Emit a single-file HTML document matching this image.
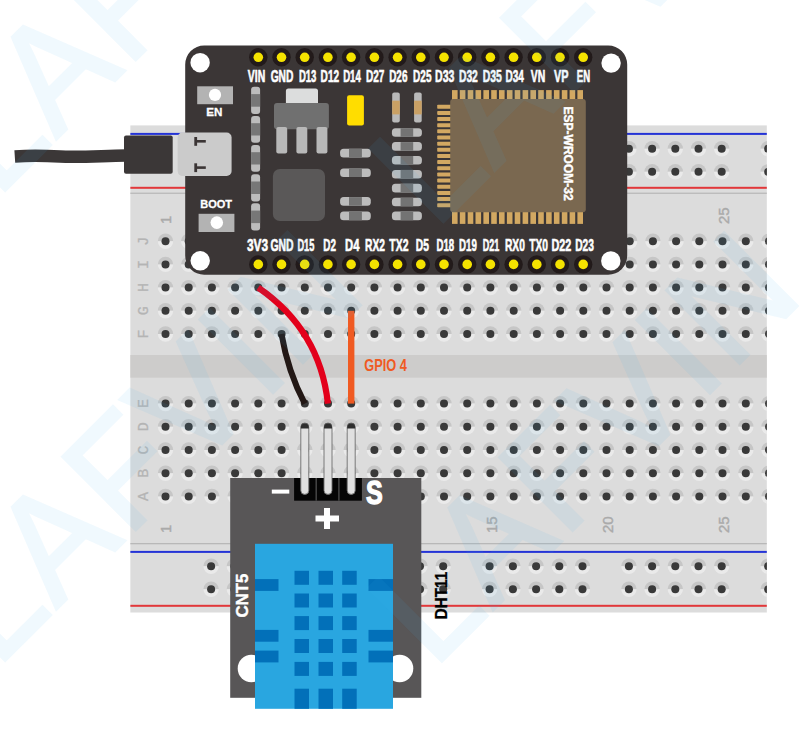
<!DOCTYPE html><html><head><meta charset="utf-8"><style>html,body{margin:0;padding:0;background:#fff;width:803px;height:732px;overflow:hidden}svg{position:absolute;left:0;top:0;display:block}text{font-family:"Liberation Sans",sans-serif;font-weight:bold}</style></head><body>
<svg width="803" height="732" viewBox="0 0 803 732">
<defs><g id="h"><path d="M-7.7,0 A7.7,7.7 0 0 1 7.7,0Z" fill="#c6c6c6"/><path d="M-7.7,0 A7.7,7.7 0 0 0 7.7,0Z" fill="#eaeaea"/><circle r="4" fill="#393939"/></g><clipPath id="bb"><rect x="130.2" y="125.2" width="636.7" height="487.5"/></clipPath></defs>
<g clip-path="url(#bb)">
<rect x="130.2" y="125.2" width="636.7" height="487.5" fill="#dcdcdc"/>
<rect x="130.2" y="132.9" width="636.7" height="2" fill="#2433d6"/>
<rect x="130.2" y="186.8" width="636.7" height="2" fill="#e2373a"/>
<rect x="130.2" y="192.6" width="636.7" height="1.3" fill="#b8b8b8"/>
<rect x="130.2" y="543.0" width="636.7" height="1.3" fill="#b8b8b8"/>
<rect x="130.2" y="550.9" width="636.7" height="2" fill="#2433d6"/>
<rect x="130.2" y="604.8" width="636.7" height="2" fill="#e2373a"/>
<rect x="130.2" y="355" width="636.7" height="22.7" fill="#cdcccb"/>
<use href="#h" x="165.5" y="241.2"/>
<use href="#h" x="188.7" y="241.2"/>
<use href="#h" x="211.9" y="241.2"/>
<use href="#h" x="235.1" y="241.2"/>
<use href="#h" x="258.3" y="241.2"/>
<use href="#h" x="281.6" y="241.2"/>
<use href="#h" x="304.8" y="241.2"/>
<use href="#h" x="328.0" y="241.2"/>
<use href="#h" x="351.2" y="241.2"/>
<use href="#h" x="374.4" y="241.2"/>
<use href="#h" x="397.6" y="241.2"/>
<use href="#h" x="420.8" y="241.2"/>
<use href="#h" x="444.0" y="241.2"/>
<use href="#h" x="467.2" y="241.2"/>
<use href="#h" x="490.4" y="241.2"/>
<use href="#h" x="513.7" y="241.2"/>
<use href="#h" x="536.9" y="241.2"/>
<use href="#h" x="560.1" y="241.2"/>
<use href="#h" x="583.3" y="241.2"/>
<use href="#h" x="606.5" y="241.2"/>
<use href="#h" x="629.7" y="241.2"/>
<use href="#h" x="652.9" y="241.2"/>
<use href="#h" x="676.1" y="241.2"/>
<use href="#h" x="699.3" y="241.2"/>
<use href="#h" x="722.5" y="241.2"/>
<use href="#h" x="745.8" y="241.2"/>
<use href="#h" x="769.0" y="241.2"/>
<use href="#h" x="165.5" y="264.4"/>
<use href="#h" x="188.7" y="264.4"/>
<use href="#h" x="211.9" y="264.4"/>
<use href="#h" x="235.1" y="264.4"/>
<use href="#h" x="258.3" y="264.4"/>
<use href="#h" x="281.6" y="264.4"/>
<use href="#h" x="304.8" y="264.4"/>
<use href="#h" x="328.0" y="264.4"/>
<use href="#h" x="351.2" y="264.4"/>
<use href="#h" x="374.4" y="264.4"/>
<use href="#h" x="397.6" y="264.4"/>
<use href="#h" x="420.8" y="264.4"/>
<use href="#h" x="444.0" y="264.4"/>
<use href="#h" x="467.2" y="264.4"/>
<use href="#h" x="490.4" y="264.4"/>
<use href="#h" x="513.7" y="264.4"/>
<use href="#h" x="536.9" y="264.4"/>
<use href="#h" x="560.1" y="264.4"/>
<use href="#h" x="583.3" y="264.4"/>
<use href="#h" x="606.5" y="264.4"/>
<use href="#h" x="629.7" y="264.4"/>
<use href="#h" x="652.9" y="264.4"/>
<use href="#h" x="676.1" y="264.4"/>
<use href="#h" x="699.3" y="264.4"/>
<use href="#h" x="722.5" y="264.4"/>
<use href="#h" x="745.8" y="264.4"/>
<use href="#h" x="769.0" y="264.4"/>
<use href="#h" x="165.5" y="287.6"/>
<use href="#h" x="188.7" y="287.6"/>
<use href="#h" x="211.9" y="287.6"/>
<use href="#h" x="235.1" y="287.6"/>
<use href="#h" x="258.3" y="287.6"/>
<use href="#h" x="281.6" y="287.6"/>
<use href="#h" x="304.8" y="287.6"/>
<use href="#h" x="328.0" y="287.6"/>
<use href="#h" x="351.2" y="287.6"/>
<use href="#h" x="374.4" y="287.6"/>
<use href="#h" x="397.6" y="287.6"/>
<use href="#h" x="420.8" y="287.6"/>
<use href="#h" x="444.0" y="287.6"/>
<use href="#h" x="467.2" y="287.6"/>
<use href="#h" x="490.4" y="287.6"/>
<use href="#h" x="513.7" y="287.6"/>
<use href="#h" x="536.9" y="287.6"/>
<use href="#h" x="560.1" y="287.6"/>
<use href="#h" x="583.3" y="287.6"/>
<use href="#h" x="606.5" y="287.6"/>
<use href="#h" x="629.7" y="287.6"/>
<use href="#h" x="652.9" y="287.6"/>
<use href="#h" x="676.1" y="287.6"/>
<use href="#h" x="699.3" y="287.6"/>
<use href="#h" x="722.5" y="287.6"/>
<use href="#h" x="745.8" y="287.6"/>
<use href="#h" x="769.0" y="287.6"/>
<use href="#h" x="165.5" y="310.8"/>
<use href="#h" x="188.7" y="310.8"/>
<use href="#h" x="211.9" y="310.8"/>
<use href="#h" x="235.1" y="310.8"/>
<use href="#h" x="258.3" y="310.8"/>
<use href="#h" x="281.6" y="310.8"/>
<use href="#h" x="304.8" y="310.8"/>
<use href="#h" x="328.0" y="310.8"/>
<use href="#h" x="351.2" y="310.8"/>
<use href="#h" x="374.4" y="310.8"/>
<use href="#h" x="397.6" y="310.8"/>
<use href="#h" x="420.8" y="310.8"/>
<use href="#h" x="444.0" y="310.8"/>
<use href="#h" x="467.2" y="310.8"/>
<use href="#h" x="490.4" y="310.8"/>
<use href="#h" x="513.7" y="310.8"/>
<use href="#h" x="536.9" y="310.8"/>
<use href="#h" x="560.1" y="310.8"/>
<use href="#h" x="583.3" y="310.8"/>
<use href="#h" x="606.5" y="310.8"/>
<use href="#h" x="629.7" y="310.8"/>
<use href="#h" x="652.9" y="310.8"/>
<use href="#h" x="676.1" y="310.8"/>
<use href="#h" x="699.3" y="310.8"/>
<use href="#h" x="722.5" y="310.8"/>
<use href="#h" x="745.8" y="310.8"/>
<use href="#h" x="769.0" y="310.8"/>
<use href="#h" x="165.5" y="334.0"/>
<use href="#h" x="188.7" y="334.0"/>
<use href="#h" x="211.9" y="334.0"/>
<use href="#h" x="235.1" y="334.0"/>
<use href="#h" x="258.3" y="334.0"/>
<use href="#h" x="281.6" y="334.0"/>
<use href="#h" x="304.8" y="334.0"/>
<use href="#h" x="328.0" y="334.0"/>
<use href="#h" x="351.2" y="334.0"/>
<use href="#h" x="374.4" y="334.0"/>
<use href="#h" x="397.6" y="334.0"/>
<use href="#h" x="420.8" y="334.0"/>
<use href="#h" x="444.0" y="334.0"/>
<use href="#h" x="467.2" y="334.0"/>
<use href="#h" x="490.4" y="334.0"/>
<use href="#h" x="513.7" y="334.0"/>
<use href="#h" x="536.9" y="334.0"/>
<use href="#h" x="560.1" y="334.0"/>
<use href="#h" x="583.3" y="334.0"/>
<use href="#h" x="606.5" y="334.0"/>
<use href="#h" x="629.7" y="334.0"/>
<use href="#h" x="652.9" y="334.0"/>
<use href="#h" x="676.1" y="334.0"/>
<use href="#h" x="699.3" y="334.0"/>
<use href="#h" x="722.5" y="334.0"/>
<use href="#h" x="745.8" y="334.0"/>
<use href="#h" x="769.0" y="334.0"/>
<use href="#h" x="165.5" y="403.6"/>
<use href="#h" x="188.7" y="403.6"/>
<use href="#h" x="211.9" y="403.6"/>
<use href="#h" x="235.1" y="403.6"/>
<use href="#h" x="258.3" y="403.6"/>
<use href="#h" x="281.6" y="403.6"/>
<use href="#h" x="304.8" y="403.6"/>
<use href="#h" x="328.0" y="403.6"/>
<use href="#h" x="351.2" y="403.6"/>
<use href="#h" x="374.4" y="403.6"/>
<use href="#h" x="397.6" y="403.6"/>
<use href="#h" x="420.8" y="403.6"/>
<use href="#h" x="444.0" y="403.6"/>
<use href="#h" x="467.2" y="403.6"/>
<use href="#h" x="490.4" y="403.6"/>
<use href="#h" x="513.7" y="403.6"/>
<use href="#h" x="536.9" y="403.6"/>
<use href="#h" x="560.1" y="403.6"/>
<use href="#h" x="583.3" y="403.6"/>
<use href="#h" x="606.5" y="403.6"/>
<use href="#h" x="629.7" y="403.6"/>
<use href="#h" x="652.9" y="403.6"/>
<use href="#h" x="676.1" y="403.6"/>
<use href="#h" x="699.3" y="403.6"/>
<use href="#h" x="722.5" y="403.6"/>
<use href="#h" x="745.8" y="403.6"/>
<use href="#h" x="769.0" y="403.6"/>
<use href="#h" x="165.5" y="426.8"/>
<use href="#h" x="188.7" y="426.8"/>
<use href="#h" x="211.9" y="426.8"/>
<use href="#h" x="235.1" y="426.8"/>
<use href="#h" x="258.3" y="426.8"/>
<use href="#h" x="281.6" y="426.8"/>
<use href="#h" x="304.8" y="426.8"/>
<use href="#h" x="328.0" y="426.8"/>
<use href="#h" x="351.2" y="426.8"/>
<use href="#h" x="374.4" y="426.8"/>
<use href="#h" x="397.6" y="426.8"/>
<use href="#h" x="420.8" y="426.8"/>
<use href="#h" x="444.0" y="426.8"/>
<use href="#h" x="467.2" y="426.8"/>
<use href="#h" x="490.4" y="426.8"/>
<use href="#h" x="513.7" y="426.8"/>
<use href="#h" x="536.9" y="426.8"/>
<use href="#h" x="560.1" y="426.8"/>
<use href="#h" x="583.3" y="426.8"/>
<use href="#h" x="606.5" y="426.8"/>
<use href="#h" x="629.7" y="426.8"/>
<use href="#h" x="652.9" y="426.8"/>
<use href="#h" x="676.1" y="426.8"/>
<use href="#h" x="699.3" y="426.8"/>
<use href="#h" x="722.5" y="426.8"/>
<use href="#h" x="745.8" y="426.8"/>
<use href="#h" x="769.0" y="426.8"/>
<use href="#h" x="165.5" y="450.0"/>
<use href="#h" x="188.7" y="450.0"/>
<use href="#h" x="211.9" y="450.0"/>
<use href="#h" x="235.1" y="450.0"/>
<use href="#h" x="258.3" y="450.0"/>
<use href="#h" x="281.6" y="450.0"/>
<use href="#h" x="304.8" y="450.0"/>
<use href="#h" x="328.0" y="450.0"/>
<use href="#h" x="351.2" y="450.0"/>
<use href="#h" x="374.4" y="450.0"/>
<use href="#h" x="397.6" y="450.0"/>
<use href="#h" x="420.8" y="450.0"/>
<use href="#h" x="444.0" y="450.0"/>
<use href="#h" x="467.2" y="450.0"/>
<use href="#h" x="490.4" y="450.0"/>
<use href="#h" x="513.7" y="450.0"/>
<use href="#h" x="536.9" y="450.0"/>
<use href="#h" x="560.1" y="450.0"/>
<use href="#h" x="583.3" y="450.0"/>
<use href="#h" x="606.5" y="450.0"/>
<use href="#h" x="629.7" y="450.0"/>
<use href="#h" x="652.9" y="450.0"/>
<use href="#h" x="676.1" y="450.0"/>
<use href="#h" x="699.3" y="450.0"/>
<use href="#h" x="722.5" y="450.0"/>
<use href="#h" x="745.8" y="450.0"/>
<use href="#h" x="769.0" y="450.0"/>
<use href="#h" x="165.5" y="473.2"/>
<use href="#h" x="188.7" y="473.2"/>
<use href="#h" x="211.9" y="473.2"/>
<use href="#h" x="235.1" y="473.2"/>
<use href="#h" x="258.3" y="473.2"/>
<use href="#h" x="281.6" y="473.2"/>
<use href="#h" x="304.8" y="473.2"/>
<use href="#h" x="328.0" y="473.2"/>
<use href="#h" x="351.2" y="473.2"/>
<use href="#h" x="374.4" y="473.2"/>
<use href="#h" x="397.6" y="473.2"/>
<use href="#h" x="420.8" y="473.2"/>
<use href="#h" x="444.0" y="473.2"/>
<use href="#h" x="467.2" y="473.2"/>
<use href="#h" x="490.4" y="473.2"/>
<use href="#h" x="513.7" y="473.2"/>
<use href="#h" x="536.9" y="473.2"/>
<use href="#h" x="560.1" y="473.2"/>
<use href="#h" x="583.3" y="473.2"/>
<use href="#h" x="606.5" y="473.2"/>
<use href="#h" x="629.7" y="473.2"/>
<use href="#h" x="652.9" y="473.2"/>
<use href="#h" x="676.1" y="473.2"/>
<use href="#h" x="699.3" y="473.2"/>
<use href="#h" x="722.5" y="473.2"/>
<use href="#h" x="745.8" y="473.2"/>
<use href="#h" x="769.0" y="473.2"/>
<use href="#h" x="165.5" y="496.4"/>
<use href="#h" x="188.7" y="496.4"/>
<use href="#h" x="211.9" y="496.4"/>
<use href="#h" x="235.1" y="496.4"/>
<use href="#h" x="258.3" y="496.4"/>
<use href="#h" x="281.6" y="496.4"/>
<use href="#h" x="304.8" y="496.4"/>
<use href="#h" x="328.0" y="496.4"/>
<use href="#h" x="351.2" y="496.4"/>
<use href="#h" x="374.4" y="496.4"/>
<use href="#h" x="397.6" y="496.4"/>
<use href="#h" x="420.8" y="496.4"/>
<use href="#h" x="444.0" y="496.4"/>
<use href="#h" x="467.2" y="496.4"/>
<use href="#h" x="490.4" y="496.4"/>
<use href="#h" x="513.7" y="496.4"/>
<use href="#h" x="536.9" y="496.4"/>
<use href="#h" x="560.1" y="496.4"/>
<use href="#h" x="583.3" y="496.4"/>
<use href="#h" x="606.5" y="496.4"/>
<use href="#h" x="629.7" y="496.4"/>
<use href="#h" x="652.9" y="496.4"/>
<use href="#h" x="676.1" y="496.4"/>
<use href="#h" x="699.3" y="496.4"/>
<use href="#h" x="722.5" y="496.4"/>
<use href="#h" x="745.8" y="496.4"/>
<use href="#h" x="769.0" y="496.4"/>
<use href="#h" x="211.1" y="148.7"/>
<use href="#h" x="211.1" y="171.8"/>
<use href="#h" x="211.1" y="566.2"/>
<use href="#h" x="211.1" y="589.3"/>
<use href="#h" x="234.3" y="148.7"/>
<use href="#h" x="234.3" y="171.8"/>
<use href="#h" x="234.3" y="566.2"/>
<use href="#h" x="234.3" y="589.3"/>
<use href="#h" x="257.5" y="148.7"/>
<use href="#h" x="257.5" y="171.8"/>
<use href="#h" x="257.5" y="566.2"/>
<use href="#h" x="257.5" y="589.3"/>
<use href="#h" x="280.8" y="148.7"/>
<use href="#h" x="280.8" y="171.8"/>
<use href="#h" x="280.8" y="566.2"/>
<use href="#h" x="280.8" y="589.3"/>
<use href="#h" x="304.0" y="148.7"/>
<use href="#h" x="304.0" y="171.8"/>
<use href="#h" x="304.0" y="566.2"/>
<use href="#h" x="304.0" y="589.3"/>
<use href="#h" x="350.4" y="148.7"/>
<use href="#h" x="350.4" y="171.8"/>
<use href="#h" x="350.4" y="566.2"/>
<use href="#h" x="350.4" y="589.3"/>
<use href="#h" x="373.6" y="148.7"/>
<use href="#h" x="373.6" y="171.8"/>
<use href="#h" x="373.6" y="566.2"/>
<use href="#h" x="373.6" y="589.3"/>
<use href="#h" x="396.8" y="148.7"/>
<use href="#h" x="396.8" y="171.8"/>
<use href="#h" x="396.8" y="566.2"/>
<use href="#h" x="396.8" y="589.3"/>
<use href="#h" x="420.0" y="148.7"/>
<use href="#h" x="420.0" y="171.8"/>
<use href="#h" x="420.0" y="566.2"/>
<use href="#h" x="420.0" y="589.3"/>
<use href="#h" x="443.2" y="148.7"/>
<use href="#h" x="443.2" y="171.8"/>
<use href="#h" x="443.2" y="566.2"/>
<use href="#h" x="443.2" y="589.3"/>
<use href="#h" x="489.6" y="148.7"/>
<use href="#h" x="489.6" y="171.8"/>
<use href="#h" x="489.6" y="566.2"/>
<use href="#h" x="489.6" y="589.3"/>
<use href="#h" x="512.9" y="148.7"/>
<use href="#h" x="512.9" y="171.8"/>
<use href="#h" x="512.9" y="566.2"/>
<use href="#h" x="512.9" y="589.3"/>
<use href="#h" x="536.1" y="148.7"/>
<use href="#h" x="536.1" y="171.8"/>
<use href="#h" x="536.1" y="566.2"/>
<use href="#h" x="536.1" y="589.3"/>
<use href="#h" x="559.3" y="148.7"/>
<use href="#h" x="559.3" y="171.8"/>
<use href="#h" x="559.3" y="566.2"/>
<use href="#h" x="559.3" y="589.3"/>
<use href="#h" x="582.5" y="148.7"/>
<use href="#h" x="582.5" y="171.8"/>
<use href="#h" x="582.5" y="566.2"/>
<use href="#h" x="582.5" y="589.3"/>
<use href="#h" x="628.9" y="148.7"/>
<use href="#h" x="628.9" y="171.8"/>
<use href="#h" x="628.9" y="566.2"/>
<use href="#h" x="628.9" y="589.3"/>
<use href="#h" x="652.1" y="148.7"/>
<use href="#h" x="652.1" y="171.8"/>
<use href="#h" x="652.1" y="566.2"/>
<use href="#h" x="652.1" y="589.3"/>
<use href="#h" x="675.3" y="148.7"/>
<use href="#h" x="675.3" y="171.8"/>
<use href="#h" x="675.3" y="566.2"/>
<use href="#h" x="675.3" y="589.3"/>
<use href="#h" x="698.5" y="148.7"/>
<use href="#h" x="698.5" y="171.8"/>
<use href="#h" x="698.5" y="566.2"/>
<use href="#h" x="698.5" y="589.3"/>
<use href="#h" x="721.7" y="148.7"/>
<use href="#h" x="721.7" y="171.8"/>
<use href="#h" x="721.7" y="566.2"/>
<use href="#h" x="721.7" y="589.3"/>
<use href="#h" x="768.2" y="148.7"/>
<use href="#h" x="768.2" y="171.8"/>
<use href="#h" x="768.2" y="566.2"/>
<use href="#h" x="768.2" y="589.3"/>
<text transform="translate(148.4,241.2) rotate(-90)" text-anchor="middle" font-size="15" style="font-family:'Liberation Mono';font-weight:normal" fill="#b4b4b4" stroke="#b4b4b4" stroke-width="0.3">J</text>
<text transform="translate(148.4,264.4) rotate(-90)" text-anchor="middle" font-size="15" style="font-family:'Liberation Mono';font-weight:normal" fill="#b4b4b4" stroke="#b4b4b4" stroke-width="0.3">I</text>
<text transform="translate(148.4,287.6) rotate(-90)" text-anchor="middle" font-size="15" style="font-family:'Liberation Mono';font-weight:normal" fill="#b4b4b4" stroke="#b4b4b4" stroke-width="0.3">H</text>
<text transform="translate(148.4,310.8) rotate(-90)" text-anchor="middle" font-size="15" style="font-family:'Liberation Mono';font-weight:normal" fill="#b4b4b4" stroke="#b4b4b4" stroke-width="0.3">G</text>
<text transform="translate(148.4,334.0) rotate(-90)" text-anchor="middle" font-size="15" style="font-family:'Liberation Mono';font-weight:normal" fill="#b4b4b4" stroke="#b4b4b4" stroke-width="0.3">F</text>
<text transform="translate(148.4,403.6) rotate(-90)" text-anchor="middle" font-size="15" style="font-family:'Liberation Mono';font-weight:normal" fill="#b4b4b4" stroke="#b4b4b4" stroke-width="0.3">E</text>
<text transform="translate(148.4,426.8) rotate(-90)" text-anchor="middle" font-size="15" style="font-family:'Liberation Mono';font-weight:normal" fill="#b4b4b4" stroke="#b4b4b4" stroke-width="0.3">D</text>
<text transform="translate(148.4,450.0) rotate(-90)" text-anchor="middle" font-size="15" style="font-family:'Liberation Mono';font-weight:normal" fill="#b4b4b4" stroke="#b4b4b4" stroke-width="0.3">C</text>
<text transform="translate(148.4,473.2) rotate(-90)" text-anchor="middle" font-size="15" style="font-family:'Liberation Mono';font-weight:normal" fill="#b4b4b4" stroke="#b4b4b4" stroke-width="0.3">B</text>
<text transform="translate(148.4,496.4) rotate(-90)" text-anchor="middle" font-size="15" style="font-family:'Liberation Mono';font-weight:normal" fill="#b4b4b4" stroke="#b4b4b4" stroke-width="0.3">A</text>
<text transform="translate(171.4,224) rotate(-90)" font-size="15" style="font-weight:normal" fill="#aaaaaa" stroke="#aaaaaa" stroke-width="0.4">1</text>
<text transform="translate(171.4,533) rotate(-90)" font-size="15" style="font-weight:normal" fill="#aaaaaa" stroke="#aaaaaa" stroke-width="0.4">1</text>
<text transform="translate(264.7,224) rotate(-90)" font-size="15" style="font-weight:normal" fill="#aaaaaa" stroke="#aaaaaa" stroke-width="0.4">5</text>
<text transform="translate(264.7,533) rotate(-90)" font-size="15" style="font-weight:normal" fill="#aaaaaa" stroke="#aaaaaa" stroke-width="0.4">5</text>
<text transform="translate(380.8,224) rotate(-90)" font-size="15" style="font-weight:normal" fill="#aaaaaa" stroke="#aaaaaa" stroke-width="0.4">10</text>
<text transform="translate(380.8,533) rotate(-90)" font-size="15" style="font-weight:normal" fill="#aaaaaa" stroke="#aaaaaa" stroke-width="0.4">10</text>
<text transform="translate(496.8,224) rotate(-90)" font-size="15" style="font-weight:normal" fill="#aaaaaa" stroke="#aaaaaa" stroke-width="0.4">15</text>
<text transform="translate(496.8,533) rotate(-90)" font-size="15" style="font-weight:normal" fill="#aaaaaa" stroke="#aaaaaa" stroke-width="0.4">15</text>
<text transform="translate(612.9,224) rotate(-90)" font-size="15" style="font-weight:normal" fill="#aaaaaa" stroke="#aaaaaa" stroke-width="0.4">20</text>
<text transform="translate(612.9,533) rotate(-90)" font-size="15" style="font-weight:normal" fill="#aaaaaa" stroke="#aaaaaa" stroke-width="0.4">20</text>
<text transform="translate(728.9,224) rotate(-90)" font-size="15" style="font-weight:normal" fill="#aaaaaa" stroke="#aaaaaa" stroke-width="0.4">25</text>
<text transform="translate(728.9,533) rotate(-90)" font-size="15" style="font-weight:normal" fill="#aaaaaa" stroke="#aaaaaa" stroke-width="0.4">25</text>
</g>
<path d="M14.8,156.4 C30,155.4 45,155.6 60,156.6 C80,157.6 100,156 126,155.5" stroke="#3b3737" stroke-width="12.5" fill="none"/>
<rect x="124" y="135.5" width="48.7" height="38.3" rx="2" fill="#3b3737"/>
<rect x="177.8" y="132.6" width="53.8" height="43.3" rx="5" fill="#cbcbcb"/>
<rect x="194.3" y="137.0" width="2.8" height="8.8" fill="#3b3535"/><rect x="197" y="140.0" width="8.8" height="2.6" fill="#3b3535"/>
<rect x="194.3" y="163.3" width="2.8" height="8.8" fill="#3b3535"/><rect x="197" y="166.3" width="8.8" height="2.6" fill="#3b3535"/>
<path d="M185.2,258.8 L185.2,64.5 A19,19 0 0 1 204.2,45.5 L608.2,45.5 A19,19 0 0 1 627.2,64.5 L627.2,255.8 A19,19 0 0 1 608.2,274.8 L204.2,274.8 A19,19 0 0 1 185.2,255.8 Z" fill="#3b3636"/>
<rect x="177.8" y="132.6" width="53.8" height="43.3" rx="5" fill="#cbcbcb"/>
<rect x="194.3" y="137.0" width="2.8" height="8.8" fill="#3b3535"/><rect x="197" y="140.0" width="8.8" height="2.6" fill="#3b3535"/>
<rect x="194.3" y="163.3" width="2.8" height="8.8" fill="#3b3535"/><rect x="197" y="166.3" width="8.8" height="2.6" fill="#3b3535"/>
<circle cx="200.1" cy="62.7" r="9.7" fill="#fff"/>
<circle cx="611.1" cy="63.1" r="9.7" fill="#fff"/>
<circle cx="200.2" cy="260.8" r="9.7" fill="#fff"/>
<circle cx="610.8" cy="260.9" r="9.7" fill="#fff"/>
<circle cx="258.3" cy="57.3" r="9.2" fill="#221a1a"/><circle cx="258.3" cy="57.3" r="4.8" fill="#f5e300"/>
<circle cx="258.3" cy="264.4" r="9.2" fill="#221a1a"/><circle cx="258.3" cy="264.4" r="4.8" fill="#f5e300"/>
<text transform="translate(256.5,81.8) scale(0.614,1)" text-anchor="middle" font-size="17" fill="#fff" stroke="#fff" stroke-width="0.6">VIN</text>
<text transform="translate(257.5,251.2) scale(0.698,1)" text-anchor="middle" font-size="17" fill="#fff" stroke="#fff" stroke-width="0.6">3V3</text>
<circle cx="281.5" cy="57.3" r="9.2" fill="#221a1a"/><circle cx="281.5" cy="57.3" r="4.8" fill="#f5e300"/>
<circle cx="281.5" cy="264.4" r="9.2" fill="#221a1a"/><circle cx="281.5" cy="264.4" r="4.8" fill="#f5e300"/>
<text transform="translate(282.0,81.8) scale(0.602,1)" text-anchor="middle" font-size="17" fill="#fff" stroke="#fff" stroke-width="0.6">GND</text>
<text transform="translate(282.0,251.2) scale(0.614,1)" text-anchor="middle" font-size="17" fill="#fff" stroke="#fff" stroke-width="0.6">GND</text>
<circle cx="304.7" cy="57.3" r="9.2" fill="#221a1a"/><circle cx="304.7" cy="57.3" r="4.8" fill="#f5e300"/>
<circle cx="304.7" cy="264.4" r="9.2" fill="#221a1a"/><circle cx="304.7" cy="264.4" r="4.8" fill="#f5e300"/>
<text transform="translate(307.6,81.8) scale(0.560,1)" text-anchor="middle" font-size="17" fill="#fff" stroke="#fff" stroke-width="0.6">D13</text>
<text transform="translate(305.9,251.2) scale(0.542,1)" text-anchor="middle" font-size="17" fill="#fff" stroke="#fff" stroke-width="0.6">D15</text>
<circle cx="327.9" cy="57.3" r="9.2" fill="#221a1a"/><circle cx="327.9" cy="57.3" r="4.8" fill="#f5e300"/>
<circle cx="327.9" cy="264.4" r="9.2" fill="#221a1a"/><circle cx="327.9" cy="264.4" r="4.8" fill="#f5e300"/>
<text transform="translate(329.9,81.8) scale(0.596,1)" text-anchor="middle" font-size="17" fill="#fff" stroke="#fff" stroke-width="0.6">D12</text>
<text transform="translate(329.6,251.2) scale(0.584,1)" text-anchor="middle" font-size="17" fill="#fff" stroke="#fff" stroke-width="0.6">D2</text>
<circle cx="351.1" cy="57.3" r="9.2" fill="#221a1a"/><circle cx="351.1" cy="57.3" r="4.8" fill="#f5e300"/>
<circle cx="351.1" cy="264.4" r="9.2" fill="#221a1a"/><circle cx="351.1" cy="264.4" r="4.8" fill="#f5e300"/>
<text transform="translate(352.0,81.8) scale(0.566,1)" text-anchor="middle" font-size="17" fill="#fff" stroke="#fff" stroke-width="0.6">D14</text>
<text transform="translate(352.3,251.2) scale(0.662,1)" text-anchor="middle" font-size="17" fill="#fff" stroke="#fff" stroke-width="0.6">D4</text>
<circle cx="374.4" cy="57.3" r="9.2" fill="#221a1a"/><circle cx="374.4" cy="57.3" r="4.8" fill="#f5e300"/>
<circle cx="374.4" cy="264.4" r="9.2" fill="#221a1a"/><circle cx="374.4" cy="264.4" r="4.8" fill="#f5e300"/>
<text transform="translate(375.1,81.8) scale(0.590,1)" text-anchor="middle" font-size="17" fill="#fff" stroke="#fff" stroke-width="0.6">D27</text>
<text transform="translate(375.0,251.2) scale(0.602,1)" text-anchor="middle" font-size="17" fill="#fff" stroke="#fff" stroke-width="0.6">RX2</text>
<circle cx="397.6" cy="57.3" r="9.2" fill="#221a1a"/><circle cx="397.6" cy="57.3" r="4.8" fill="#f5e300"/>
<circle cx="397.6" cy="264.4" r="9.2" fill="#221a1a"/><circle cx="397.6" cy="264.4" r="4.8" fill="#f5e300"/>
<text transform="translate(398.3,81.8) scale(0.584,1)" text-anchor="middle" font-size="17" fill="#fff" stroke="#fff" stroke-width="0.6">D26</text>
<text transform="translate(398.9,251.2) scale(0.614,1)" text-anchor="middle" font-size="17" fill="#fff" stroke="#fff" stroke-width="0.6">TX2</text>
<circle cx="420.8" cy="57.3" r="9.2" fill="#221a1a"/><circle cx="420.8" cy="57.3" r="4.8" fill="#f5e300"/>
<circle cx="420.8" cy="264.4" r="9.2" fill="#221a1a"/><circle cx="420.8" cy="264.4" r="4.8" fill="#f5e300"/>
<text transform="translate(422.3,81.8) scale(0.590,1)" text-anchor="middle" font-size="17" fill="#fff" stroke="#fff" stroke-width="0.6">D25</text>
<text transform="translate(422.3,251.2) scale(0.602,1)" text-anchor="middle" font-size="17" fill="#fff" stroke="#fff" stroke-width="0.6">D5</text>
<circle cx="444.0" cy="57.3" r="9.2" fill="#221a1a"/><circle cx="444.0" cy="57.3" r="4.8" fill="#f5e300"/>
<circle cx="444.0" cy="264.4" r="9.2" fill="#221a1a"/><circle cx="444.0" cy="264.4" r="4.8" fill="#f5e300"/>
<text transform="translate(444.7,81.8) scale(0.620,1)" text-anchor="middle" font-size="17" fill="#fff" stroke="#fff" stroke-width="0.6">D33</text>
<text transform="translate(445.3,251.2) scale(0.566,1)" text-anchor="middle" font-size="17" fill="#fff" stroke="#fff" stroke-width="0.6">D18</text>
<circle cx="467.2" cy="57.3" r="9.2" fill="#221a1a"/><circle cx="467.2" cy="57.3" r="4.8" fill="#f5e300"/>
<circle cx="467.2" cy="264.4" r="9.2" fill="#221a1a"/><circle cx="467.2" cy="264.4" r="4.8" fill="#f5e300"/>
<text transform="translate(468.4,81.8) scale(0.608,1)" text-anchor="middle" font-size="17" fill="#fff" stroke="#fff" stroke-width="0.6">D32</text>
<text transform="translate(467.9,251.2) scale(0.572,1)" text-anchor="middle" font-size="17" fill="#fff" stroke="#fff" stroke-width="0.6">D19</text>
<circle cx="490.4" cy="57.3" r="9.2" fill="#221a1a"/><circle cx="490.4" cy="57.3" r="4.8" fill="#f5e300"/>
<circle cx="490.4" cy="264.4" r="9.2" fill="#221a1a"/><circle cx="490.4" cy="264.4" r="4.8" fill="#f5e300"/>
<text transform="translate(492.2,81.8) scale(0.614,1)" text-anchor="middle" font-size="17" fill="#fff" stroke="#fff" stroke-width="0.6">D35</text>
<text transform="translate(491.1,251.2) scale(0.530,1)" text-anchor="middle" font-size="17" fill="#fff" stroke="#fff" stroke-width="0.6">D21</text>
<circle cx="513.6" cy="57.3" r="9.2" fill="#221a1a"/><circle cx="513.6" cy="57.3" r="4.8" fill="#f5e300"/>
<circle cx="513.6" cy="264.4" r="9.2" fill="#221a1a"/><circle cx="513.6" cy="264.4" r="4.8" fill="#f5e300"/>
<text transform="translate(514.6,81.8) scale(0.590,1)" text-anchor="middle" font-size="17" fill="#fff" stroke="#fff" stroke-width="0.6">D34</text>
<text transform="translate(514.9,251.2) scale(0.602,1)" text-anchor="middle" font-size="17" fill="#fff" stroke="#fff" stroke-width="0.6">RX0</text>
<circle cx="536.8" cy="57.3" r="9.2" fill="#221a1a"/><circle cx="536.8" cy="57.3" r="4.8" fill="#f5e300"/>
<circle cx="536.8" cy="264.4" r="9.2" fill="#221a1a"/><circle cx="536.8" cy="264.4" r="4.8" fill="#f5e300"/>
<text transform="translate(538.0,81.8) scale(0.614,1)" text-anchor="middle" font-size="17" fill="#fff" stroke="#fff" stroke-width="0.6">VN</text>
<text transform="translate(538.6,251.2) scale(0.602,1)" text-anchor="middle" font-size="17" fill="#fff" stroke="#fff" stroke-width="0.6">TX0</text>
<circle cx="560.0" cy="57.3" r="9.2" fill="#221a1a"/><circle cx="560.0" cy="57.3" r="4.8" fill="#f5e300"/>
<circle cx="560.0" cy="264.4" r="9.2" fill="#221a1a"/><circle cx="560.0" cy="264.4" r="4.8" fill="#f5e300"/>
<text transform="translate(561.3,81.8) scale(0.638,1)" text-anchor="middle" font-size="17" fill="#fff" stroke="#fff" stroke-width="0.6">VP</text>
<text transform="translate(561.4,251.2) scale(0.638,1)" text-anchor="middle" font-size="17" fill="#fff" stroke="#fff" stroke-width="0.6">D22</text>
<circle cx="583.2" cy="57.3" r="9.2" fill="#221a1a"/><circle cx="583.2" cy="57.3" r="4.8" fill="#f5e300"/>
<circle cx="583.2" cy="264.4" r="9.2" fill="#221a1a"/><circle cx="583.2" cy="264.4" r="4.8" fill="#f5e300"/>
<text transform="translate(583.5,81.8) scale(0.566,1)" text-anchor="middle" font-size="17" fill="#fff" stroke="#fff" stroke-width="0.6">EN</text>
<text transform="translate(584.6,251.2) scale(0.602,1)" text-anchor="middle" font-size="17" fill="#fff" stroke="#fff" stroke-width="0.6">D23</text>
<rect x="197.2" y="86.3" width="35.8" height="17.9" fill="#b3b3b3"/><circle cx="215" cy="94.9" r="6.1" fill="#fff"/>
<text x="214.4" y="116" text-anchor="middle" font-size="11.6" fill="#fff" stroke="#fff" stroke-width="0.3">EN</text>
<text x="216.2" y="208" text-anchor="middle" font-size="11" fill="#fff" stroke="#fff" stroke-width="0.3">BOOT</text>
<rect x="198.6" y="213.8" width="35.8" height="18.2" fill="#b3b3b3"/><circle cx="216.8" cy="222.6" r="6.3" fill="#fff"/>
<rect x="251.1" y="86.7" width="9" height="27.3" rx="3" fill="#bcbcbc"/><rect x="251.1" y="94.1" width="9" height="12.6" fill="#777777"/>
<rect x="251.1" y="116" width="9" height="26.7" rx="3" fill="#bcbcbc"/><rect x="251.1" y="123.2" width="9" height="12.3" fill="#777777"/>
<rect x="251.1" y="145" width="9" height="26.8" rx="3" fill="#bcbcbc"/><rect x="251.1" y="152.2" width="9" height="12.3" fill="#777777"/>
<rect x="251.1" y="174.2" width="9" height="27.2" rx="3" fill="#bcbcbc"/><rect x="251.1" y="181.5" width="9" height="12.5" fill="#777777"/>
<rect x="251.1" y="203.3" width="9" height="27.2" rx="3" fill="#bcbcbc"/><rect x="251.1" y="210.6" width="9" height="12.5" fill="#777777"/>
<rect x="285.9" y="88.6" width="32.1" height="18" rx="2.5" fill="#dcdddd"/>
<rect x="274" y="103" width="54.9" height="26.3" rx="3" fill="#707070"/>
<rect x="276.3" y="127" width="10.9" height="26.6" rx="2" fill="#b8b8b8"/>
<rect x="296.4" y="127" width="10.9" height="26.6" rx="2" fill="#b8b8b8"/>
<rect x="316.5" y="127" width="10.9" height="26.6" rx="2" fill="#b8b8b8"/>
<rect x="272.9" y="169" width="52.1" height="52" rx="7" fill="#5a5858"/>
<rect x="347.1" y="95.3" width="16.8" height="30.2" rx="2" fill="#ffdd00"/>
<rect x="340.1" y="148.8" width="30.7" height="8.6" rx="3.5" fill="#bcbcbc"/><rect x="349.0" y="148.8" width="12.9" height="8.6" fill="#737373"/>
<rect x="340.1" y="168.4" width="30.7" height="8.6" rx="3.5" fill="#bcbcbc"/><rect x="349.0" y="168.4" width="12.9" height="8.6" fill="#737373"/>
<rect x="340.1" y="197.1" width="30.7" height="8.6" rx="3.5" fill="#bcbcbc"/><rect x="349.0" y="197.1" width="12.9" height="8.6" fill="#737373"/>
<rect x="340.1" y="211.6" width="30.7" height="8.6" rx="3.5" fill="#bcbcbc"/><rect x="349.0" y="211.6" width="12.9" height="8.6" fill="#737373"/>
<rect x="391.9" y="128.2" width="30.0" height="8.6" rx="3.5" fill="#bcbcbc"/><rect x="400.6" y="128.2" width="12.6" height="8.6" fill="#737373"/>
<rect x="391.9" y="142.1" width="30.0" height="8.6" rx="3.5" fill="#bcbcbc"/><rect x="400.6" y="142.1" width="12.6" height="8.6" fill="#737373"/>
<rect x="391.9" y="156.0" width="30.0" height="8.6" rx="3.5" fill="#bcbcbc"/><rect x="400.6" y="156.0" width="12.6" height="8.6" fill="#737373"/>
<rect x="391.9" y="169.9" width="30.0" height="8.6" rx="3.5" fill="#bcbcbc"/><rect x="400.6" y="169.9" width="12.6" height="8.6" fill="#737373"/>
<rect x="391.9" y="183.8" width="30.0" height="8.6" rx="3.5" fill="#bcbcbc"/><rect x="400.6" y="183.8" width="12.6" height="8.6" fill="#737373"/>
<rect x="391.9" y="197.7" width="30.0" height="8.6" rx="3.5" fill="#bcbcbc"/><rect x="400.6" y="197.7" width="12.6" height="8.6" fill="#737373"/>
<rect x="391.9" y="211.6" width="30.0" height="8.6" rx="3.5" fill="#bcbcbc"/><rect x="400.6" y="211.6" width="12.6" height="8.6" fill="#737373"/>
<rect x="392.2" y="92.4" width="7.6" height="30.1" rx="2" fill="#b9b9b9"/><rect x="392.2" y="100.7" width="7.6" height="13.7" fill="#c9a064"/>
<rect x="414.1" y="92.4" width="7.6" height="30.1" rx="2" fill="#b9b9b9"/><rect x="414.1" y="100.7" width="7.6" height="13.7" fill="#c9a064"/>
<rect x="452.0" y="90.1" width="5.6" height="12" fill="#d2a862"/><rect x="452.0" y="210" width="5.6" height="13.9" fill="#d2a862"/>
<rect x="459.8" y="90.1" width="5.6" height="12" fill="#d2a862"/><rect x="459.8" y="210" width="5.6" height="13.9" fill="#d2a862"/>
<rect x="467.7" y="90.1" width="5.6" height="12" fill="#d2a862"/><rect x="467.7" y="210" width="5.6" height="13.9" fill="#d2a862"/>
<rect x="475.5" y="90.1" width="5.6" height="12" fill="#d2a862"/><rect x="475.5" y="210" width="5.6" height="13.9" fill="#d2a862"/>
<rect x="483.4" y="90.1" width="5.6" height="12" fill="#d2a862"/><rect x="483.4" y="210" width="5.6" height="13.9" fill="#d2a862"/>
<rect x="491.2" y="90.1" width="5.6" height="12" fill="#d2a862"/><rect x="491.2" y="210" width="5.6" height="13.9" fill="#d2a862"/>
<rect x="499.0" y="90.1" width="5.6" height="12" fill="#d2a862"/><rect x="499.0" y="210" width="5.6" height="13.9" fill="#d2a862"/>
<rect x="506.9" y="90.1" width="5.6" height="12" fill="#d2a862"/><rect x="506.9" y="210" width="5.6" height="13.9" fill="#d2a862"/>
<rect x="514.7" y="90.1" width="5.6" height="12" fill="#d2a862"/><rect x="514.7" y="210" width="5.6" height="13.9" fill="#d2a862"/>
<rect x="522.6" y="90.1" width="5.6" height="12" fill="#d2a862"/><rect x="522.6" y="210" width="5.6" height="13.9" fill="#d2a862"/>
<rect x="530.4" y="90.1" width="5.6" height="12" fill="#d2a862"/><rect x="530.4" y="210" width="5.6" height="13.9" fill="#d2a862"/>
<rect x="538.2" y="90.1" width="5.6" height="12" fill="#d2a862"/><rect x="538.2" y="210" width="5.6" height="13.9" fill="#d2a862"/>
<rect x="546.1" y="90.1" width="5.6" height="12" fill="#d2a862"/><rect x="546.1" y="210" width="5.6" height="13.9" fill="#d2a862"/>
<rect x="553.9" y="90.1" width="5.6" height="12" fill="#d2a862"/><rect x="553.9" y="210" width="5.6" height="13.9" fill="#d2a862"/>
<rect x="561.8" y="90.1" width="5.6" height="12" fill="#d2a862"/><rect x="561.8" y="210" width="5.6" height="13.9" fill="#d2a862"/>
<rect x="569.6" y="90.1" width="5.6" height="12" fill="#d2a862"/><rect x="569.6" y="210" width="5.6" height="13.9" fill="#d2a862"/>
<rect x="577.4" y="90.1" width="5.6" height="12" fill="#d2a862"/><rect x="577.4" y="210" width="5.6" height="13.9" fill="#d2a862"/>
<rect x="437.2" y="104.7" width="15" height="4" rx="0.8" fill="#d2a862"/>
<rect x="437.2" y="110.9" width="15" height="4" rx="0.8" fill="#d2a862"/>
<rect x="437.2" y="117.0" width="15" height="4" rx="0.8" fill="#d2a862"/>
<rect x="437.2" y="123.2" width="15" height="4" rx="0.8" fill="#d2a862"/>
<rect x="437.2" y="129.3" width="15" height="4" rx="0.8" fill="#d2a862"/>
<rect x="437.2" y="135.5" width="15" height="4" rx="0.8" fill="#d2a862"/>
<rect x="437.2" y="141.7" width="15" height="4" rx="0.8" fill="#d2a862"/>
<rect x="437.2" y="147.8" width="15" height="4" rx="0.8" fill="#d2a862"/>
<rect x="437.2" y="154.0" width="15" height="4" rx="0.8" fill="#d2a862"/>
<rect x="437.2" y="160.1" width="15" height="4" rx="0.8" fill="#d2a862"/>
<rect x="437.2" y="166.3" width="15" height="4" rx="0.8" fill="#d2a862"/>
<rect x="437.2" y="172.5" width="15" height="4" rx="0.8" fill="#d2a862"/>
<rect x="437.2" y="178.6" width="15" height="4" rx="0.8" fill="#d2a862"/>
<rect x="437.2" y="184.8" width="15" height="4" rx="0.8" fill="#d2a862"/>
<rect x="437.2" y="190.9" width="15" height="4" rx="0.8" fill="#d2a862"/>
<rect x="437.2" y="197.1" width="15" height="4" rx="0.8" fill="#d2a862"/>
<rect x="437.2" y="203.3" width="15" height="4" rx="0.8" fill="#d2a862"/>
<rect x="450.2" y="99" width="135.6" height="113.3" rx="3" fill="#7a6850"/>
<text transform="translate(563.5,153.6) rotate(90)" text-anchor="middle" font-size="12" fill="#fff" stroke="#fff" stroke-width="0.4">ESP-WROOM-32</text>
<circle cx="258.2" cy="287.6" r="3.3" fill="#383838"/>
<circle cx="327.9" cy="403.6" r="3.3" fill="#383838"/>
<circle cx="281.5" cy="334" r="3.3" fill="#383838"/>
<circle cx="304.8" cy="403.6" r="3.3" fill="#383838"/>
<circle cx="351.2" cy="310.8" r="3.3" fill="#383838"/>
<circle cx="351.2" cy="403.6" r="3.3" fill="#383838"/>
<path d="M258.2,287.6 Q320,330 327.9,403.6" stroke="#e3001b" stroke-width="6.2" fill="none"/>
<path d="M281.5,334 Q288,372 304.8,403.6" stroke="#231815" stroke-width="6" fill="none"/>
<path d="M351.2,310.8 L351.2,403.6" stroke="#f05a22" stroke-width="6.4" fill="none"/>
<text transform="translate(364.3,371.3) scale(0.8,1)" font-size="16" fill="#f05a22">GPIO 4</text>
<rect x="230.2" y="478" width="191.1" height="219.8" fill="#585657"/>
<rect x="294.1" y="478" width="67.8" height="22.7" fill="#050505"/>
<rect x="315.5" y="478" width="1.4" height="22.7" fill="#4a4a4a"/>
<rect x="338.2" y="478" width="1.4" height="22.7" fill="#4a4a4a"/>
<rect x="300.8" y="423.4" width="8" height="71" rx="4" fill="#e0e0e0" stroke="#6e6e6e" stroke-width="0.9"/>
<path d="M300.8,427.4 A4,4 0 0 1 308.8,427.4 L308.8,428.6 L300.8,428.6 Z" fill="#2e2e2e"/>
<rect x="324.0" y="423.4" width="8" height="71" rx="4" fill="#e0e0e0" stroke="#6e6e6e" stroke-width="0.9"/>
<path d="M324.0,427.4 A4,4 0 0 1 332.0,427.4 L332.0,428.6 L324.0,428.6 Z" fill="#2e2e2e"/>
<rect x="347.2" y="423.4" width="8" height="71" rx="4" fill="#e0e0e0" stroke="#6e6e6e" stroke-width="0.9"/>
<path d="M347.2,427.4 A4,4 0 0 1 355.2,427.4 L355.2,428.6 L347.2,428.6 Z" fill="#2e2e2e"/>
<rect x="271.8" y="489.6" width="17.5" height="4" fill="#fff"/>
<text transform="translate(374.3,503.6) scale(0.77,1)" text-anchor="middle" font-size="32.5" fill="#fff" stroke="#fff" stroke-width="1.4">S</text>
<rect x="324" y="508" width="6" height="21" fill="#fff"/><rect x="315.5" y="515.5" width="23.5" height="6" fill="#fff"/>
<circle cx="251.4" cy="668.5" r="13.7" fill="#fff"/>
<circle cx="399.6" cy="668.5" r="13.7" fill="#fff"/>
<text transform="translate(248.2,595.6) rotate(-90) scale(1.08,1)" text-anchor="middle" font-size="15.6" fill="#fff" stroke="#fff" stroke-width="0.4">CNT5</text>
<rect x="255" y="543.8" width="138" height="165" fill="#29a6e0"/>
<rect x="294.5" y="570.8" width="14.5" height="14" fill="#0270b9"/>
<rect x="294.5" y="593.5" width="14.5" height="14" fill="#0270b9"/>
<rect x="294.5" y="616.1" width="14.5" height="14" fill="#0270b9"/>
<rect x="294.5" y="639" width="14.5" height="14" fill="#0270b9"/>
<rect x="294.5" y="661.9" width="14.5" height="14" fill="#0270b9"/>
<rect x="294.5" y="688.7" width="14.5" height="20.1" fill="#0270b9"/>
<rect x="318.5" y="570.8" width="14.5" height="14" fill="#0270b9"/>
<rect x="318.5" y="593.5" width="14.5" height="14" fill="#0270b9"/>
<rect x="318.5" y="616.1" width="14.5" height="14" fill="#0270b9"/>
<rect x="318.5" y="639" width="14.5" height="14" fill="#0270b9"/>
<rect x="318.5" y="661.9" width="14.5" height="14" fill="#0270b9"/>
<rect x="318.5" y="688.7" width="14.5" height="20.1" fill="#0270b9"/>
<rect x="342.2" y="570.8" width="14.5" height="14" fill="#0270b9"/>
<rect x="342.2" y="593.5" width="14.5" height="14" fill="#0270b9"/>
<rect x="342.2" y="616.1" width="14.5" height="14" fill="#0270b9"/>
<rect x="342.2" y="639" width="14.5" height="14" fill="#0270b9"/>
<rect x="342.2" y="661.9" width="14.5" height="14" fill="#0270b9"/>
<rect x="342.2" y="688.7" width="14.5" height="20.1" fill="#0270b9"/>
<rect x="255" y="579.1" width="23.5" height="11.8" fill="#0270b9"/><rect x="368.5" y="579.1" width="24.5" height="11.8" fill="#0270b9"/>
<rect x="255" y="629.9" width="23.5" height="11.8" fill="#0270b9"/><rect x="368.5" y="629.9" width="24.5" height="11.8" fill="#0270b9"/>
<rect x="255" y="650.6" width="23.5" height="11.8" fill="#0270b9"/><rect x="368.5" y="650.6" width="24.5" height="11.8" fill="#0270b9"/>
<text transform="translate(446.9,595.5) rotate(-90) scale(0.95,1)" text-anchor="middle" font-size="16" fill="#000" stroke="#000" stroke-width="0.3">DHT11</text>
<g opacity="0.08" fill="#45b4f0" stroke="#45b4f0" stroke-width="3.2" style="font-weight:normal">
<text transform="translate(-3.3,198.8) rotate(-45) scale(0.97,1)" font-size="150" style="font-weight:normal" letter-spacing="3.5">LAFVIN</text>
<text transform="translate(-3.3,668.8) rotate(-45) scale(0.97,1)" font-size="150" style="font-weight:normal" letter-spacing="3.5">LAFVIN</text>
<text transform="translate(433.5,669.5) rotate(-45) scale(0.97,1)" font-size="150" style="font-weight:normal" letter-spacing="3.5">LAFVIN</text>
<text transform="translate(435,230) rotate(-45) scale(0.97,1)" font-size="150" style="font-weight:normal" letter-spacing="3.5">LAFVIN</text>
</g>
</svg></body></html>
